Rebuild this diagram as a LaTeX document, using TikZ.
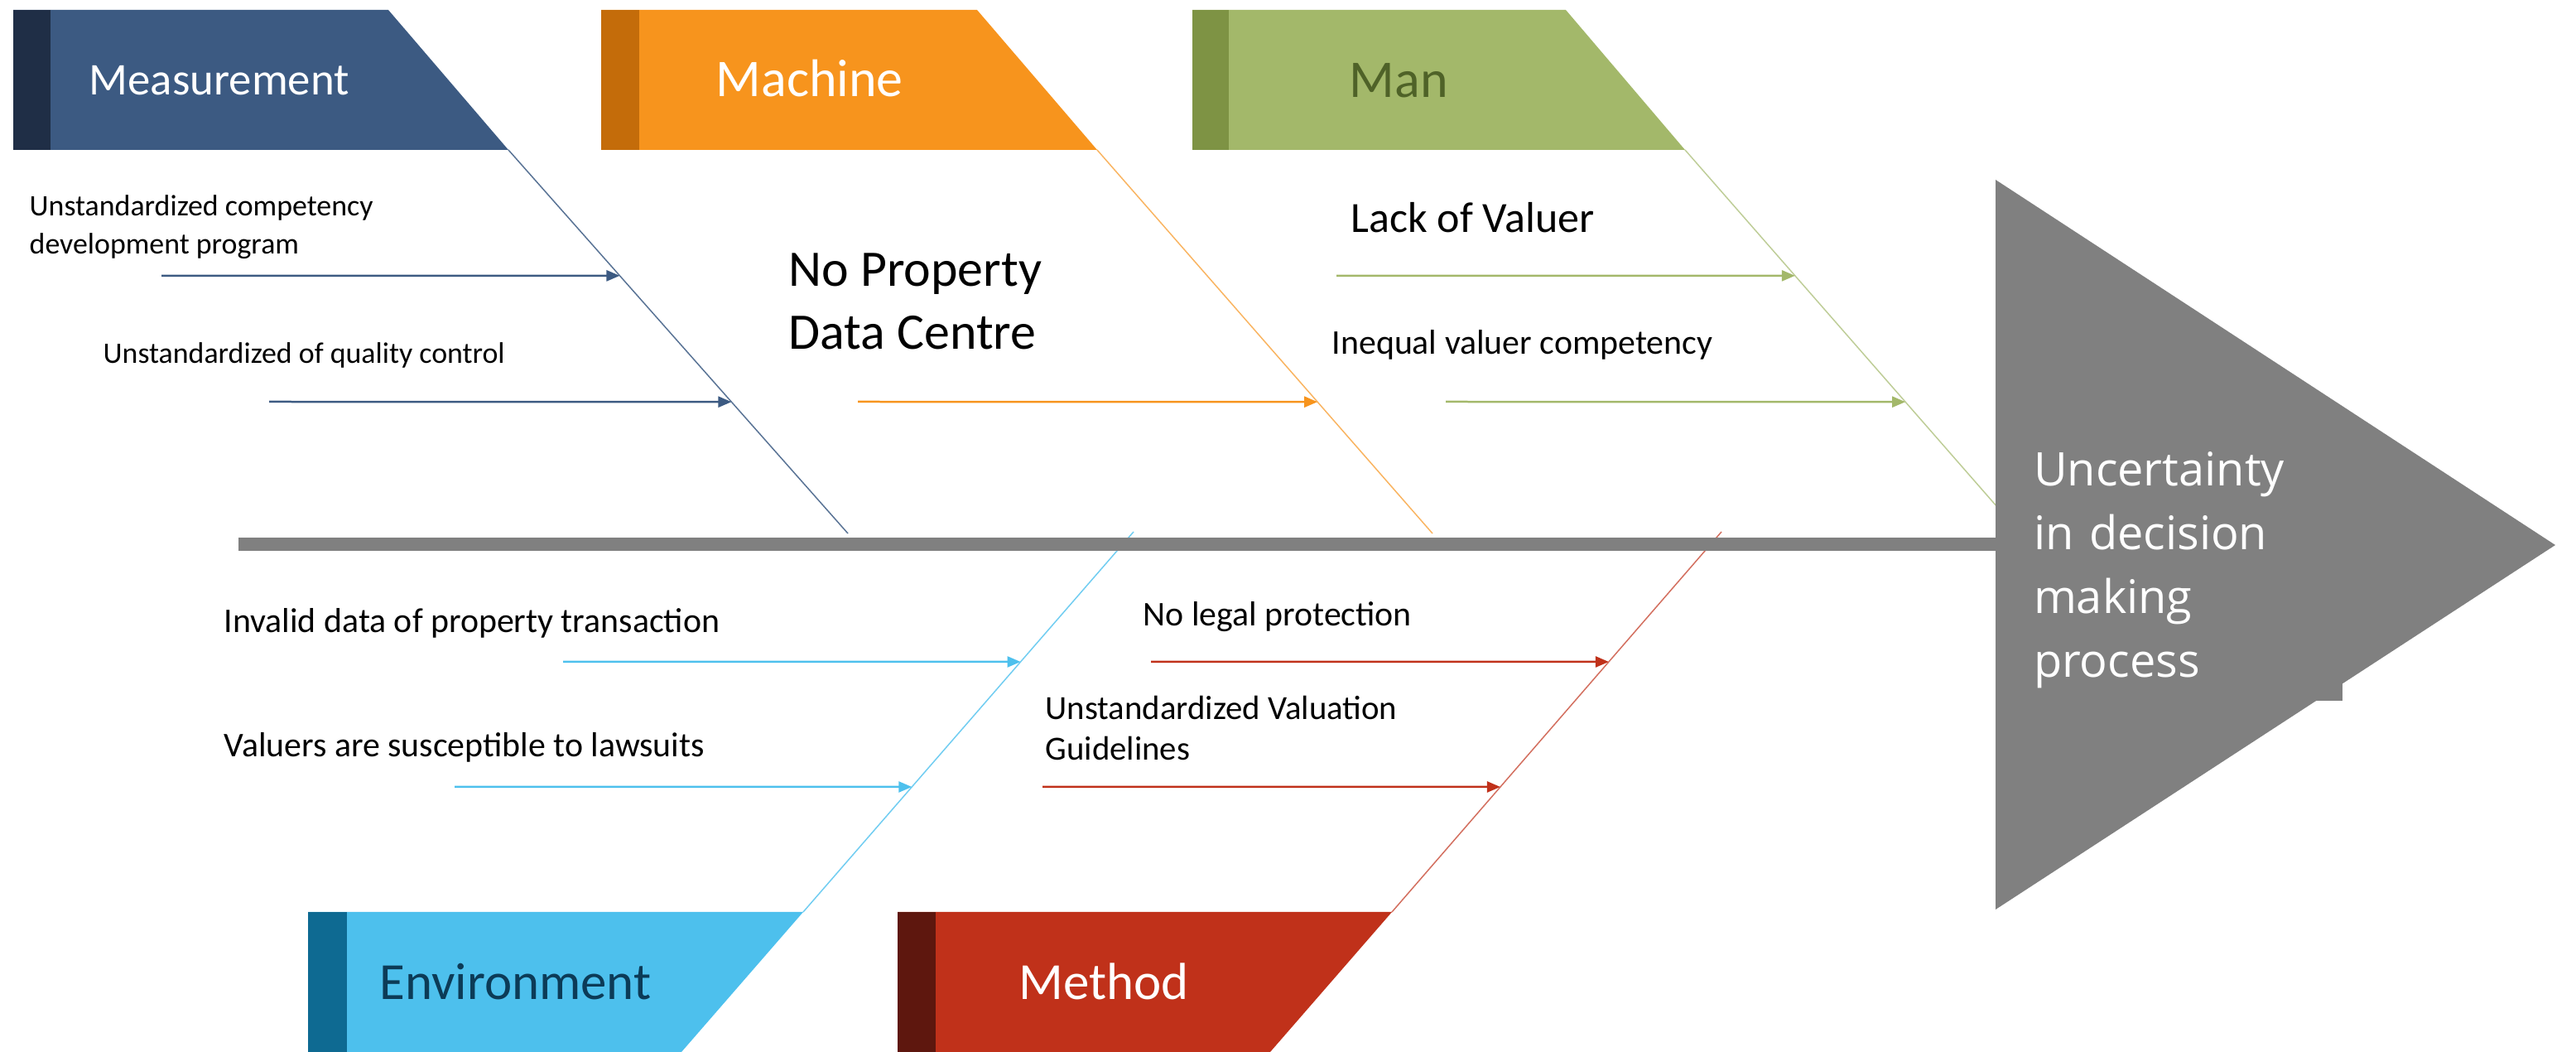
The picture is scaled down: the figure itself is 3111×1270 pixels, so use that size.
\documentclass[tikz,border=0pt]{standalone}
\usepackage{fontspec}
\setmainfont{Carlito}
\newfontfamily\effectfont{Open Sans}
\usepackage{tikz}
\usetikzlibrary{
    arrows.meta,
    calc
}
\usepackage{xcolor}
\definecolor{measblue}{HTML}{3C5A82}
\definecolor{measdark}{HTML}{1F2E46}
\definecolor{machorange}{HTML}{F7941D}
\definecolor{machdark}{HTML}{C46C0A}
\definecolor{mangreen}{HTML}{A3B86A}
\definecolor{mandark}{HTML}{7E9344}
\definecolor{mantext}{HTML}{4F6228}
\definecolor{envblue}{HTML}{4DC0ED}
\definecolor{envdark}{HTML}{0E6A92}
\definecolor{envtext}{HTML}{0C3B57}
\definecolor{methred}{HTML}{C0311A}
\definecolor{methdark}{HTML}{5E170E}
\definecolor{headgray}{HTML}{808080}

\begin{document}
\begin{tikzpicture}[
    x=0.1mm, y=-0.1mm,
    cat/.style={
        anchor=base west, inner sep=0pt,
        font=\fontsize{18.2pt}{22pt}\selectfont
    },
    cause/.style={
        anchor=base west, inner sep=0pt, align=left,
        font=\fontsize{11.9pt}{14pt}\selectfont
    },
    bone/.style={line width=0.15mm},
    causearrow/.style={line width=0.25mm, -{Triangle[length=1.6mm, width=1.3mm]}},
    effect/.style={
        anchor=base west, fill=headgray, text=white,
        text width=35.8mm, inner xsep=1.5mm, inner ysep=1.5mm, outer sep=0pt,
        align=left, font=\effectfont\fontsize{15.9pt}{21.9pt}\selectfont
    }
]
\useasboundingbox (0,0) rectangle (3111,1270);

% Bone end points
\coordinate (measA) at (614,181);  \coordinate (measB) at (1024,644);
\coordinate (machA) at (1325,181); \coordinate (machB) at (1730,644);
\coordinate (manA) at (2035,181);  \coordinate (manB) at (2440,644);
\coordinate (envA) at (970,1101);  \coordinate (envB) at (1369,642);
\coordinate (methA) at (1681,1101); \coordinate (methB) at (2079,642);

% Bones
\draw[bone, measblue!85] (measA) -- (measB);
\draw[bone, machorange!70] (machA) -- (machB);
\draw[bone, mangreen!70] (manA) -- (manB);
\draw[bone, envblue!80] (envA) -- (envB);
\draw[bone, methred!70] (methA) -- (methB);

% Category headers (top)
\fill[measblue] (16,12) -- (469,12) -- (measA) -- (16,181) -- cycle;
\fill[measdark] (16,12) rectangle (61,181);
\node[cat, text=white, font=\fontsize{15.6pt}{19pt}\selectfont] (meas) at (107,115) {Measurement};

\fill[machorange] (726,12) -- (1180,12) -- (machA) -- (726,181) -- cycle;
\fill[machdark] (726,12) rectangle (772,181);
\node[cat, text=white] (mach) at (864,117) {Machine};

\fill[mangreen] (1440,12) -- (1891,12) -- (manA) -- (1440,181) -- cycle;
\fill[mandark] (1440,12) rectangle (1484,181);
\node[cat, text=mantext] (man) at (1629,118) {Man};

% Category headers (bottom)
\fill[envblue] (372,1101) -- (envA) -- (823,1270) -- (372,1270) -- cycle;
\fill[envdark] (372,1101) rectangle (419,1270);
\node[cat, text=envtext, font=\fontsize{17.9pt}{22pt}\selectfont] (env) at (458,1207) {Environment};

\fill[methred] (1084,1101) -- (methA) -- (1534,1270) -- (1084,1270) -- cycle;
\fill[methdark] (1084,1101) rectangle (1130,1270);
\node[cat, text=white, font=\fontsize{17.9pt}{22pt}\selectfont] (meth) at (1230,1207) {Method};

% Causes: Measurement (two-line nodes sit on their last baseline)
\node[cause, font=\fontsize{10.2pt}{13.1pt}\selectfont] (compprog) at (35,307) {Unstandardized competency\\development program};
\coordinate (compprog-s) at (195,333);
\draw[causearrow, measblue] (compprog-s) -- ($(measA)!0.328!(measB)$);

\node[cause, font=\fontsize{10.2pt}{13.1pt}\selectfont] (qualctrl) at (124,439) {Unstandardized of quality control};
\coordinate (qualctrl-s) at (325,485);
\draw[causearrow, measblue] (qualctrl-s) -- ($(measA)!0.657!(measB)$);

% Causes: Machine
\node[cause, font=\fontsize{17.6pt}{21.9pt}\selectfont] (datacentre) at (952,422) {No Property\\Data Centre};
\coordinate (datacentre-s) at (1036,485);
\draw[causearrow, machorange] (datacentre-s) -- ($(machA)!0.657!(machB)$);

% Causes: Man
\node[cause, font=\fontsize{14.8pt}{18pt}\selectfont] (lackval) at (1631,281) {Lack of Valuer};
\coordinate (lackval-s) at (1614,333);
\draw[causearrow, mangreen] (lackval-s) -- ($(manA)!0.328!(manB)$);

\node[cause] (ineqval) at (1608,428) {Inequal valuer competency};
\coordinate (ineqval-s) at (1746,485);
\draw[causearrow, mangreen] (ineqval-s) -- ($(manA)!0.657!(manB)$);

% Causes: Environment
\node[cause] (invdata) at (270,764) {Invalid data of property transaction};
\coordinate (invdata-s) at (680,799);
\draw[causearrow, envblue] (invdata-s) -- ($(envA)!0.658!(envB)$);

\node[cause] (lawsuit) at (270,914) {Valuers are susceptible to lawsuits};
\coordinate (lawsuit-s) at (549,950);
\draw[causearrow, envblue] (lawsuit-s) -- ($(envA)!0.329!(envB)$);

% Causes: Method
\node[cause] (legal) at (1380,756) {No legal protection};
\coordinate (legal-s) at (1390,799);
\draw[causearrow, methred] (legal-s) -- ($(methA)!0.658!(methB)$);

\node[cause, font=\fontsize{11.6pt}{14pt}\selectfont] (guide) at (1262,918) {Unstandardized Valuation\\Guidelines};
\coordinate (guide-s) at (1259,950);
\draw[causearrow, methred] (guide-s) -- ($(methA)!0.329!(methB)$);

% Spine and head
\coordinate (tail) at (288,657);
\coordinate (head) at (2410,657);
\draw[line width=1.6mm, headgray] (tail) -- (head);
\fill[headgray] (2410,217) -- (3086,658) -- (2410,1098) -- cycle;
\node[effect] (effect) at (2441,587) {Uncertainty\\in decision\\making\\process};

\end{tikzpicture}
\end{document}
